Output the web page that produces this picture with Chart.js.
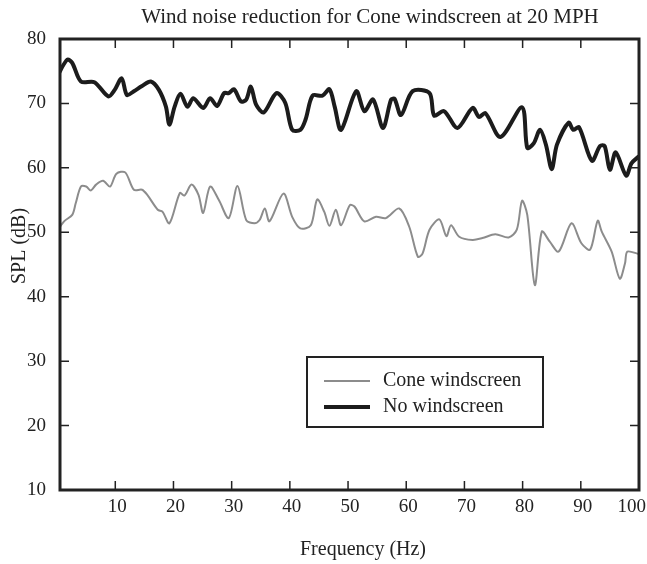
<!DOCTYPE html>
<html>
<head>
<meta charset="utf-8">
<script src="https://cdn.jsdelivr.net/npm/chart.js@4"></script>
<style>
  html, body { margin: 0; padding: 0; background: #fff; }
  #wrap { width: 647px; height: 564px; }
</style>
</head>
<body>
<div id="wrap"><canvas id="chart" width="647" height="564"></canvas></div>
<script>
const freqNo = [0, 1.75, 2.6, 4.1, 6.4, 8.8, 9.9, 11.1, 12.0, 13.2, 14.6, 16.1, 17.5, 18.7, 19.3, 20.2, 21.2, 22.4, 23.4, 25.1,
  26.3, 27.5, 28.7, 29.5, 30.4, 31.6, 32.5, 33.3, 34.2, 35.5, 37.7, 39.2, 40.4, 41.8, 42.7, 43.9, 45.6, 46.8, 47.7, 48.8,
  51.4, 52.8, 54.3, 56.0, 57.4, 58.0, 59.1, 61.1, 64.0, 64.8, 66.5, 68.8, 71.4, 72.5, 73.6, 76.2, 79.9, 80.8, 81.9, 83.0,
  84.0, 85.0, 85.9, 87.9, 88.7, 89.7, 91.9, 93.3, 94.1, 95.0, 96.0, 97.8, 98.7, 100];
const splNo = [74.2, 76.8, 76.3, 73.4, 73.3, 71.1, 72.1, 73.9, 71.3, 71.9, 72.7, 73.4, 72.1, 69.5, 66.7, 69.5, 71.5, 69.5, 70.8, 69.3,
  70.8, 69.6, 71.6, 71.6, 72.2, 70.3, 70.6, 72.6, 69.8, 68.6, 71.6, 70.1, 65.9, 65.9, 67.5, 71.2, 71.2, 72.2, 69.5, 65.9,
  71.9, 68.8, 70.6, 66.2, 70.6, 70.7, 68.2, 71.9, 71.6, 68.1, 68.8, 66.2, 69.3, 67.9, 68.5, 64.8, 69.4, 63.1, 63.8, 65.9,
  63.6, 59.8, 63.6, 67.0, 65.9, 66.3, 61.1, 63.4, 63.4, 59.7, 62.4, 58.8, 60.7, 61.8];

const freqCone = [0, 0.3, 1.2, 2.6, 3.2, 4.1, 5.0, 5.8, 6.7, 7.9, 9.1, 10.2, 11.7, 13.2, 14.6, 15.5, 17.3, 18.1, 19.3, 21.1,
  21.9, 23.1, 24.3, 25.1, 26.3, 27.8, 29.5, 31.0, 32.5, 33.9, 34.8, 35.7, 36.5, 38.9, 40.4, 41.8, 43.6, 44.7, 45.9, 46.8,
  47.9, 48.8, 50.3, 51.1, 52.8, 54.8, 56.5, 58.8, 60.5, 62.0, 62.8, 64.0, 65.7, 66.9, 67.7, 69.1, 71.4, 73.1, 75.3, 77.6,
  79.0, 79.9, 80.8, 82.1, 83.3, 84.7, 86.2, 88.4, 90.1, 91.6, 92.9, 93.6, 95.3, 96.7, 97.6, 98.0, 100];
const splCone = [47.3, 50.4, 51.7, 52.7, 54.5, 57.1, 57.1, 56.5, 57.4, 58.0, 57.1, 59.1, 59.3, 56.6, 56.6, 55.8, 53.5, 53.2, 51.4, 56.1,
  55.7, 57.4, 55.8, 53.0, 57.1, 55.0, 52.2, 57.2, 51.9, 51.4, 51.9, 53.7, 51.7, 56.0, 52.4, 50.6, 51.1, 55.1, 53.2, 51.0,
  53.5, 51.1, 54.2, 54.0, 51.7, 52.4, 52.2, 53.7, 50.9, 46.2, 46.7, 50.4, 52.0, 49.4, 51.1, 49.3, 48.8, 49.1, 49.7, 49.2,
  50.4, 54.9, 52.7, 41.8, 50.1, 48.5, 47.0, 51.4, 48.3, 47.3, 51.8, 50.1, 47.0, 42.8, 45.2, 47.0, 46.6];

const xTickVals = [10, 20, 30, 40, 50, 60, 70, 80, 90, 100];
const yTickVals = [10, 20, 30, 40, 50, 60, 70, 80];

const serif = 'Liberation Serif';
const ink = '#222';

function pts(xs, ys) {
  return xs.map((x, i) => ({ x: x, y: ys[i] }));
}

// box, inner ticks, x labels, titles and the boxed legend
const decor = {
  id: 'decor',
  afterDatasetsDraw(chart) {
    const { ctx, chartArea: a, scales: { x, y } } = chart;
    ctx.save();
    ctx.strokeStyle = ink;
    ctx.lineWidth = 1.5;
    ctx.beginPath();
    xTickVals.forEach(v => {
      const px = x.getPixelForValue(v);
      ctx.moveTo(px, a.bottom); ctx.lineTo(px, a.bottom - 9);
      ctx.moveTo(px, a.top); ctx.lineTo(px, a.top + 9);
    });
    yTickVals.forEach(v => {
      const py = y.getPixelForValue(v);
      ctx.moveTo(a.left, py); ctx.lineTo(a.left + 9, py);
      ctx.moveTo(a.right, py); ctx.lineTo(a.right - 9, py);
    });
    ctx.stroke();
    ctx.lineWidth = 3;
    ctx.strokeRect(a.left, a.top, a.width, a.height);

    ctx.fillStyle = ink;
    ctx.textBaseline = 'middle';
    ctx.textAlign = 'center';

    // x tick labels, last one kept inside the canvas like the original
    ctx.font = '19px "' + serif + '"';
    xTickVals.forEach(v => {
      const label = String(v);
      const w = ctx.measureText(label).width;
      const px = Math.min(x.getPixelForValue(v) + 2, chart.width - w / 2 - 1);
      ctx.fillText(label, px, a.bottom + 17);
    });

    ctx.font = '21px "' + serif + '"';
    ctx.fillText('Wind noise reduction for Cone windscreen at 20 MPH', 370, 17);
    ctx.font = '20px "' + serif + '"';
    ctx.fillText('Frequency (Hz)', 363, 550);
    ctx.save();
    ctx.translate(20, 246);
    ctx.rotate(-Math.PI / 2);
    ctx.fillText('SPL (dB)', 0, 0);
    ctx.restore();

    // legend
    ctx.lineWidth = 2;
    ctx.strokeRect(307, 357, 236, 70);
    ctx.textAlign = 'left';
    const order = [1, 0];
    order.forEach((di, k) => {
      const ds = chart.data.datasets[di];
      const ly = 381 + k * 26;
      ctx.strokeStyle = ds.borderColor;
      ctx.lineWidth = ds.borderWidth;
      ctx.beginPath();
      ctx.moveTo(324, ly); ctx.lineTo(370, ly);
      ctx.stroke();
      ctx.fillText(ds.label, 383, ly);
    });
    ctx.restore();
  }
};

new Chart(document.getElementById('chart'), {
  type: 'line',
  data: {
    datasets: [{
      label: 'No windscreen',
      data: pts(freqNo, splNo),
      borderColor: '#1c1c1c',
      borderWidth: 4,
      pointRadius: 0,
      tension: 0.3
    }, {
      label: 'Cone windscreen',
      data: pts(freqCone, splCone),
      borderColor: '#8c8c8c',
      borderWidth: 2,
      pointRadius: 0,
      tension: 0.3
    }]
  },
  options: {
    responsive: false,
    animation: false,
    layout: { padding: { left: 0, right: 8, top: 39, bottom: 0 } },
    plugins: { legend: { display: false }, tooltip: { enabled: false } },
    scales: {
      x: {
        type: 'linear',
        min: 0.5,
        max: 100,
        grid: { display: false },
        border: { display: false },
        afterBuildTicks: s => { s.ticks = xTickVals.map(v => ({ value: v })); },
        afterFit: s => { s.height = 74; s.paddingLeft = 0; s.paddingRight = 0; },
        ticks: { display: false }
      },
      y: {
        min: 10,
        max: 80,
        grid: { display: false },
        border: { display: false },
        afterBuildTicks: s => { s.ticks = yTickVals.map(v => ({ value: v })); },
        afterFit: s => { s.width = 60; s.paddingTop = 0; s.paddingBottom = 0; },
        ticks: { color: ink, padding: 6, font: { family: serif, size: 19 } }
      }
    }
  },
  plugins: [decor]
});
</script>
</body>
</html>
